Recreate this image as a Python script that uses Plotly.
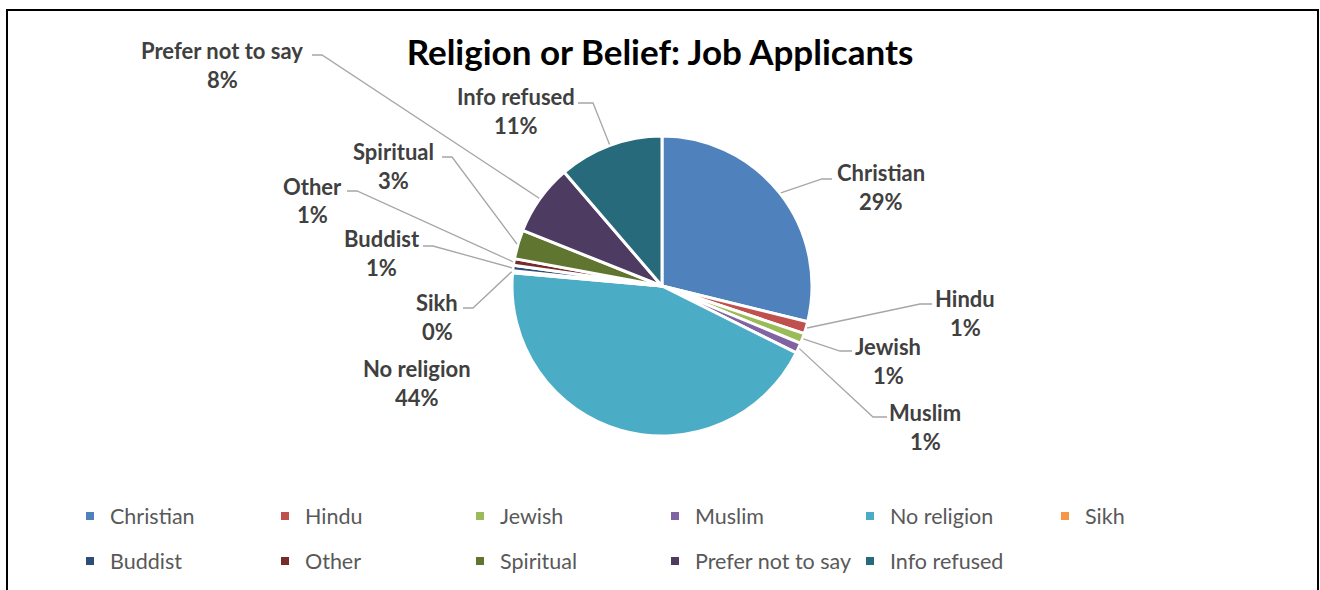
import math
import plotly.graph_objects as go

# Applicant counts by religion or belief
categories = ["Christian", "Hindu", "Jewish", "Muslim", "No religion", "Sikh",
              "Buddist", "Other", "Spiritual", "Prefer not to say", "Info refused"]
applicants = [286, 13, 11, 11, 437, 2, 6, 7, 31, 76, 112]
slice_colors = ["#4F81BD", "#C0504D", "#9BBB59", "#8064A2", "#4BACC6", "#F79646",
                "#2C4D75", "#772C2A", "#5F7530", "#4D3B62", "#276A7C"]

W, H = 1320, 590
CX, CY, R = 662, 286, 150          # pie centre and radius in pixels

# Data-label placement in pixels: name centre, then leader elbow and end (or None)
label_layout = {
    "Christian":         ((881, 172), (822, 179), (832, 179)),
    "Hindu":             ((965, 298), (920, 304), (932, 304)),
    "Jewish":            ((888, 346), (840, 351), (852, 351)),
    "Muslim":            ((925, 412), (873, 417), (887, 417)),
    "No religion":       ((417, 368), None, None),
    "Sikh":              ((437, 302), (473, 308), (463, 308)),
    "Buddist":           ((382, 238), (433, 246), (423, 246)),
    "Other":             ((312, 186), (357, 191), (347, 191)),
    "Spiritual":         ((393, 152), (452, 157), (442, 157)),
    "Prefer not to say": ((222, 50), (322, 55), (312, 55)),
    "Info refused":      ((516, 96), (593, 103), (578, 103)),
}
LINE_GAP = 29  # vertical distance between name and percentage


def px(x):
    return x / W


def py(y):
    return 1 - y / H


total = sum(applicants)
percents = [round(v / total * 100) for v in applicants]

fig = go.Figure()

fig.add_trace(go.Pie(
    labels=categories,
    values=applicants,
    sort=False,
    direction="clockwise",
    rotation=0,
    marker=dict(colors=slice_colors, line=dict(color="white", width=3)),
    textinfo="none",
    hoverinfo="label+percent",
    showlegend=False,
    domain=dict(x=[px(CX - R), px(CX + R)], y=[py(CY + R), py(CY - R)]),
))

# Legend entries (square swatches) split over two rows
for i, (name, col) in enumerate(zip(categories, slice_colors)):
    fig.add_trace(go.Scatter(
        x=[None], y=[None], mode="markers", name=name,
        marker=dict(symbol="square", size=8, color=col),
        legend="legend" if i < 6 else "legend2",
        hoverinfo="skip",
    ))

annotations = []
shapes = []
cum = 0
label_font = dict(family="Lato", size=22, color="#404040")
for name, v, pct in zip(categories, applicants, percents):
    mid = (cum + v / 2) / total * 2 * math.pi
    cum += v
    (lx, ly), elbow, end = label_layout[name]
    annotations.append(dict(x=px(lx), y=py(ly), xref="paper", yref="paper",
                            text=f"<b>{name}</b>", showarrow=False,
                            xanchor="center", yanchor="middle", font=label_font))
    annotations.append(dict(x=px(lx), y=py(ly + LINE_GAP), xref="paper", yref="paper",
                            text=f"<b>{pct}%</b>", showarrow=False,
                            xanchor="center", yanchor="middle", font=label_font))
    if elbow is not None:
        sx = CX + (R + 1) * math.sin(mid)
        sy = CY - (R + 1) * math.cos(mid)
        path = (f"M{px(sx)},{py(sy)} L{px(elbow[0])},{py(elbow[1])} "
                f"L{px(end[0])},{py(end[1])}")
        shapes.append(dict(type="path", path=path, xref="paper", yref="paper",
                           line=dict(color="#A6A6A6", width=1.3)))

# Chart border
shapes.append(dict(type="rect", xref="paper", yref="paper",
                   x0=px(7), x1=px(1318), y0=-0.05, y1=py(10),
                   line=dict(color="black", width=2)))

legend_common = dict(
    orientation="h", xanchor="left", yanchor="middle",
    font=dict(family="Lato", size=21.5, color="#595959"),
    bgcolor="rgba(0,0,0,0)", entrywidth=150, entrywidthmode="pixels",
    itemclick=False, itemdoubleclick=False,
)

fig.update_layout(
    width=W, height=H,
    margin=dict(l=0, r=0, t=0, b=0),
    paper_bgcolor="white", plot_bgcolor="white",
    title=dict(text="<b>Religion or Belief: Job Applicants</b>",
               x=0.5, xanchor="center", y=py(53), yanchor="middle",
               font=dict(family="Lato", size=35, color="black")),
    xaxis=dict(visible=False), yaxis=dict(visible=False),
    legend=dict(x=px(70), y=py(516), **legend_common),
    legend2=dict(x=px(70), y=py(561), **legend_common),
    annotations=annotations,
    shapes=shapes,
    font=dict(family="Lato"),
)

fig.write_html("out.html")
